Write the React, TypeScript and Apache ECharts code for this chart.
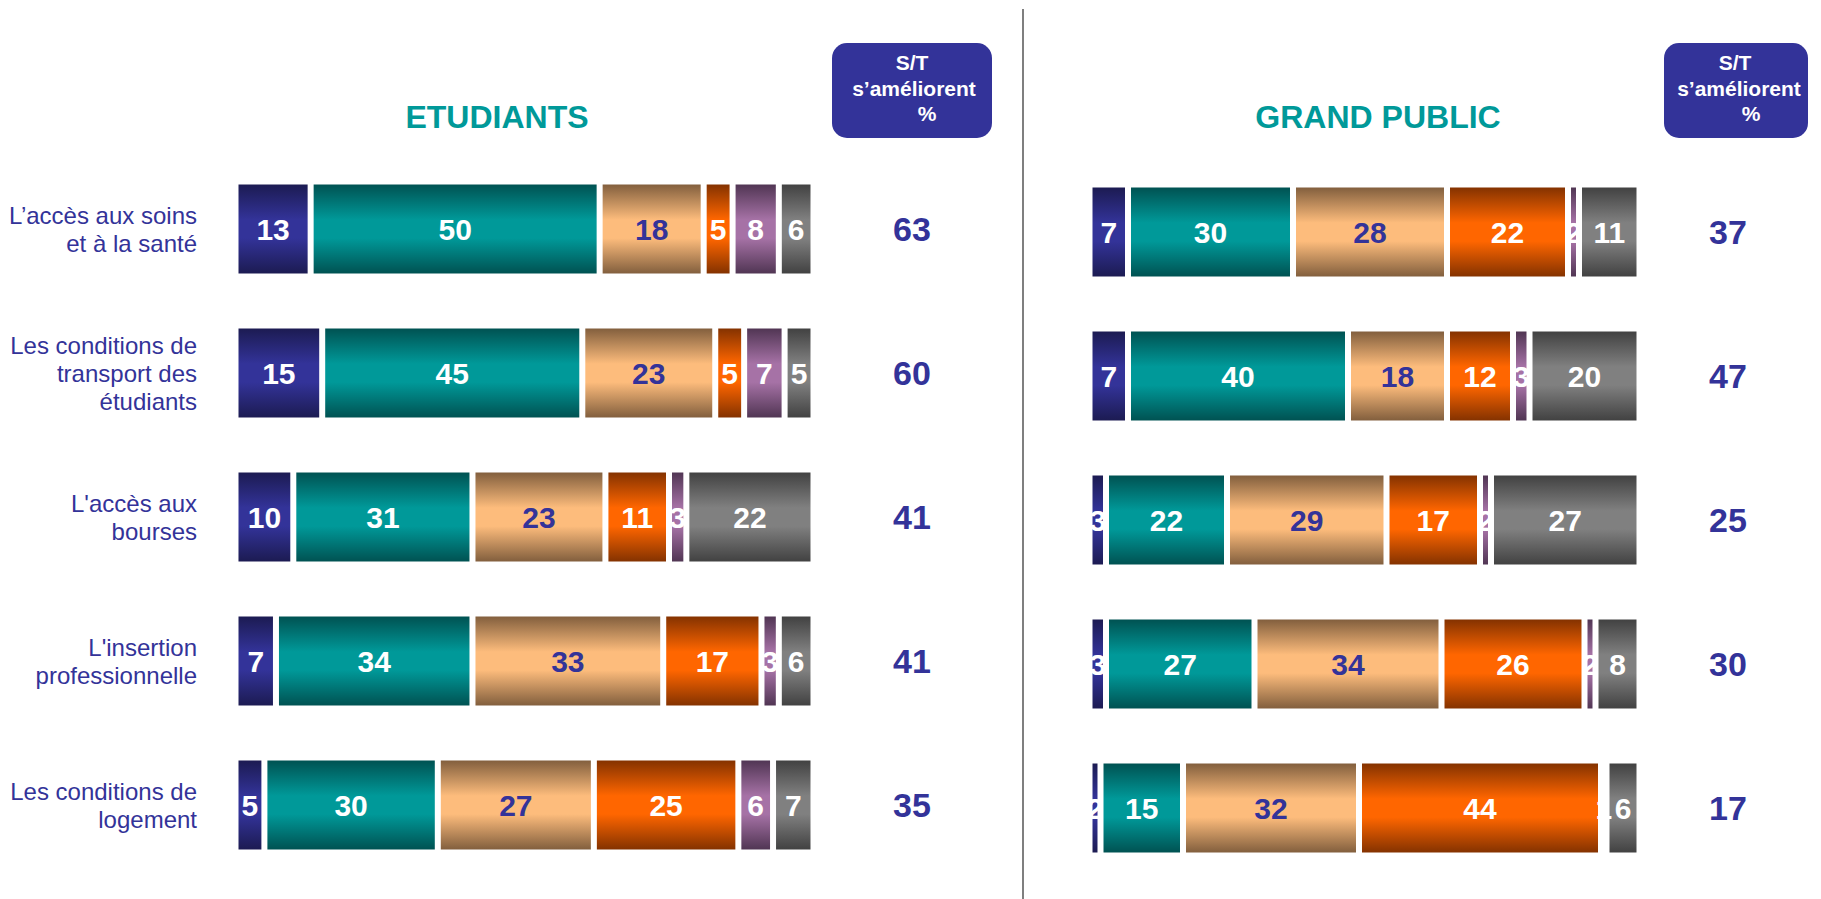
import React, { useEffect, useRef } from "react";
import * as echarts from "echarts";

// ---------- DATA ----------
const categories = [
  "L’accès aux soins\net à la santé",
  "Les conditions de\ntransport des\nétudiants",
  "L'accès aux\nbourses",
  "L'insertion\nprofessionnelle",
  "Les conditions de\nlogement",
];

const segmentNames = [
  "S'améliorent beaucoup",
  "S'améliorent un peu",
  "Restent stables",
  "Se dégradent un peu",
  "Se dégradent beaucoup",
  "NSP",
];

// Etudiants
const etuSeg1 = [13, 15, 10, 7, 5];
const etuSeg2 = [50, 45, 31, 34, 30];
const etuSeg3 = [18, 23, 23, 33, 27];
const etuSeg4 = [5, 5, 11, 17, 25];
const etuSeg5 = [8, 7, 3, 3, 6];
const etuSeg6 = [6, 5, 22, 6, 7];
const etuST = [63, 60, 41, 41, 35];

// Grand public
const gpSeg1 = [7, 7, 3, 3, 2];
const gpSeg2 = [30, 40, 22, 27, 15];
const gpSeg3 = [28, 18, 29, 34, 32];
const gpSeg4 = [22, 12, 17, 26, 44];
const gpSeg5 = [2, 3, 2, 2, 1];
const gpSeg6 = [11, 20, 27, 8, 6];
const gpST = [37, 47, 25, 30, 17];

const panelTitles = ["ETUDIANTS", "GRAND PUBLIC"];

// ---------- STYLE ----------
const FONT = '"Liberation Sans", Arial, Helvetica, sans-serif';
const NAVY = "#333399";
const TEAL = "#009999";

const segStyles = [
  { dark: "#1b1a4f", mid: "#333399", label: "#ffffff" },
  { dark: "#004f4f", mid: "#009999", label: "#ffffff" },
  { dark: "#7d5b3b", mid: "#fdbc7c", label: "#333399" },
  { dark: "#7f3000", mid: "#ff6600", label: "#ffffff" },
  { dark: "#4d3350", mid: "#a672a6", label: "#ffffff" },
  { dark: "#3f3f3f", mid: "#808080", label: "#ffffff" },
];

function grad(dark: string, mid: string) {
  return new echarts.graphic.LinearGradient(0, 0, 0, 1, [
    { offset: 0, color: dark },
    { offset: 0.4, color: mid },
    { offset: 0.6, color: mid },
    { offset: 1, color: dark },
  ]);
}

function buildSeries(panel: number, segs: number[][]) {
  return segs.map((data, i) => ({
    type: "bar",
    name: segmentNames[i],
    stack: "panel" + panel,
    xAxisIndex: panel,
    yAxisIndex: panel * 2,
    data,
    barWidth: 95,
    itemStyle: {
      color: grad(segStyles[i].dark, segStyles[i].mid),
      borderColor: "#ffffff",
      borderWidth: 3,
    },
    label: {
      show: true,
      position: "inside",
      formatter: "{c}",
      color: segStyles[i].label,
      fontSize: 30,
      fontWeight: "bold",
      fontFamily: FONT,
      textBorderWidth: 0,
    },
  }));
}

function headerBox(cx: number, x: number, w: number, pctX: number, amX: number) {
  return [
    {
      type: "rect",
      shape: { x, y: 43, width: w, height: 95, r: 15 },
      style: { fill: NAVY },
    },
    {
      type: "text",
      x: cx,
      y: 62,
      style: {
        text: "S/T",
        fill: "#fff",
        font: `bold 21px ${FONT}`,
        textAlign: "center",
        textVerticalAlign: "middle",
      },
    },
    {
      type: "text",
      x: amX,
      y: 88,
      style: {
        text: "s’améliorent",
        fill: "#fff",
        font: `bold 21px ${FONT}`,
        textAlign: "center",
        textVerticalAlign: "middle",
      },
    },
    {
      type: "text",
      x: pctX,
      y: 113,
      style: {
        text: "%",
        fill: "#fff",
        font: `bold 21px ${FONT}`,
        textAlign: "center",
        textVerticalAlign: "middle",
      },
    },
  ];
}

export default function App() {
  const ref = useRef<HTMLDivElement>(null);

  useEffect(() => {
    if (!ref.current) return;
    const chart = echarts.init(ref.current, undefined, { renderer: "svg" });

    const grids = [
      { left: 235.5, top: 157, width: 578, height: 720 },
      { left: 1089.5, top: 160, width: 550, height: 720 },
    ];

    const catAxisBase = {
      type: "category",
      inverse: true,
      axisLine: { show: false },
      axisTick: { show: false },
      splitLine: { show: false },
    };

    const option: any = {
      animation: false,
      backgroundColor: "#ffffff",
      textStyle: { fontFamily: FONT },
      grid: grids,
      xAxis: [0, 1].map((g) => ({
        type: "value",
        gridIndex: g,
        min: 0,
        max: 100,
        show: false,
      })),
      yAxis: [
        {
          ...catAxisBase,
          gridIndex: 0,
          position: "left",
          data: categories,
          axisLabel: {
            color: NAVY,
            fontSize: 24,
            lineHeight: 28,
            fontFamily: FONT,
            align: "right",
            margin: 38.5,
          },
        },
        {
          ...catAxisBase,
          gridIndex: 0,
          position: "right",
          data: etuST.map(String),
          axisLabel: {
            color: NAVY,
            fontSize: 34,
            fontWeight: "bold",
            fontFamily: FONT,
            align: "center",
            margin: 98.5,
          },
        },
        {
          ...catAxisBase,
          gridIndex: 1,
          position: "left",
          data: categories,
          axisLabel: { show: false },
        },
        {
          ...catAxisBase,
          gridIndex: 1,
          position: "right",
          data: gpST.map(String),
          axisLabel: {
            color: NAVY,
            fontSize: 34,
            fontWeight: "bold",
            fontFamily: FONT,
            align: "center",
            margin: 88.5,
          },
        },
      ],
      series: [
        ...buildSeries(0, [etuSeg1, etuSeg2, etuSeg3, etuSeg4, etuSeg5, etuSeg6]),
        ...buildSeries(1, [gpSeg1, gpSeg2, gpSeg3, gpSeg4, gpSeg5, gpSeg6]),
      ],
      graphic: [
        {
          type: "line",
          shape: { x1: 1023, y1: 9, x2: 1023, y2: 899 },
          style: { stroke: "#7f7f7f", lineWidth: 2 },
        },
        {
          type: "text",
          x: 497,
          y: 117,
          style: {
            text: panelTitles[0],
            fill: TEAL,
            font: `bold 32px ${FONT}`,
            textAlign: "center",
            textVerticalAlign: "middle",
          },
        },
        {
          type: "text",
          x: 1378,
          y: 117,
          style: {
            text: panelTitles[1],
            fill: TEAL,
            font: `bold 32px ${FONT}`,
            textAlign: "center",
            textVerticalAlign: "middle",
          },
        },
        ...headerBox(912, 832, 160, 927, 914),
        ...headerBox(1735, 1664, 144, 1751, 1739),
      ],
    };

    chart.setOption(option);
    return () => chart.dispose();
  }, []);

  return (
    <div
      ref={ref}
      style={{
        position: "fixed",
        left: 0,
        top: 0,
        width: "1821px",
        height: "899px",
        background: "#fff",
      }}
    />
  );
}
